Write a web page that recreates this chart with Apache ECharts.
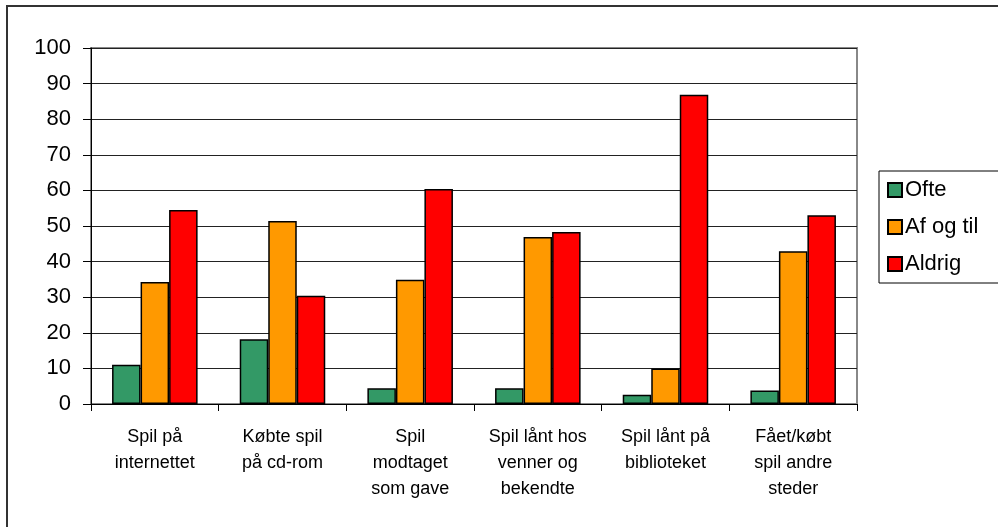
<!DOCTYPE html>
<html>

<head>
  <meta charset="utf-8">
  <title>Spil</title>
  <script src="https://cdn.jsdelivr.net/npm/echarts@6/dist/echarts.min.js"></script>
  <style>
    html, body {
      margin: 0;
      padding: 0;
      background: #fff;
    }

    #main {
      width: 998px;
      height: 527px;
    }
  </style>
</head>

<body>
  <div id="main"></div>
  <script>
    var categories = [
      'Spil på\ninternettet',
      'Købte spil\npå cd-rom',
      'Spil\nmodtaget\nsom gave',
      'Spil lånt hos\nvenner og\nbekendte',
      'Spil lånt på\nbiblioteket',
      'Fået/købt\nspil andre\nsteder'
    ];
    var seriesNames = ['Ofte', 'Af og til', 'Aldrig'];
    var ofte = [11, 18.2, 4.4, 4.4, 2.6, 3.8];
    var afOgTil = [34.3, 51.4, 34.9, 46.9, 10, 42.9];
    var aldrig = [54.5, 30.4, 60.4, 48.3, 86.9, 53];
    var colors = ['#339966', '#FF9900', '#FF0000'];

    var chart = echarts.init(document.getElementById('main'));

    function bar(name, data, color) {
      return {
        name: name,
        type: 'bar',
        data: data,
        barGap: '0%',
        barCategoryGap: '33%',
        itemStyle: {
          color: color,
          borderColor: '#000',
          borderWidth: 1.5
        }
      };
    }

    var option = {
      animation: false,
      textStyle: {
        fontFamily: 'Liberation Sans, Arial, sans-serif'
      },
      graphic: [{
        type: 'rect',
        shape: { x: 7, y: 6, width: 1100, height: 600 },
        style: { fill: 'none', stroke: '#333', lineWidth: 2 },
        silent: true
      }],
      grid: {
        left: 91,
        right: 141,
        top: 48,
        bottom: 123,
        show: true,
        borderColor: '#888',
        borderWidth: 2,
        backgroundColor: '#fff'
      },
      legend: {
        orient: 'vertical',
        left: 879,
        top: 171,
        itemWidth: 14,
        itemHeight: 14,
        itemGap: 15,
        padding: [8, 30, 8, 8],
        borderColor: '#000',
        borderWidth: 1,
        icon: 'rect',
        textStyle: {
          fontSize: 22,
          color: '#000',
          fontFamily: 'Liberation Sans, Arial, sans-serif',
          padding: [0, 0, 0, -2]
        },
        data: seriesNames
      },
      xAxis: {
        type: 'category',
        data: categories,
        axisLine: { lineStyle: { color: '#000', width: 1 } },
        axisTick: { show: true, length: 7, lineStyle: { color: '#000' } },
        axisLabel: {
          interval: 0,
          margin: 20,
          fontSize: 18,
          lineHeight: 26,
          color: '#000'
        }
      },
      yAxis: {
        type: 'value',
        min: 0,
        max: 100,
        interval: 10,
        axisLine: { show: true, lineStyle: { color: '#000', width: 1 } },
        axisTick: { show: true, length: 8, lineStyle: { color: '#000' } },
        axisLabel: {
          margin: 20,
          fontSize: 22,
          color: '#000'
        },
        splitLine: { lineStyle: { color: '#222', width: 1 } }
      },
      series: [
        bar(seriesNames[0], ofte, colors[0]),
        bar(seriesNames[1], afOgTil, colors[1]),
        bar(seriesNames[2], aldrig, colors[2])
      ]
    };

    chart.setOption(option);
  </script>
</body>

</html>
